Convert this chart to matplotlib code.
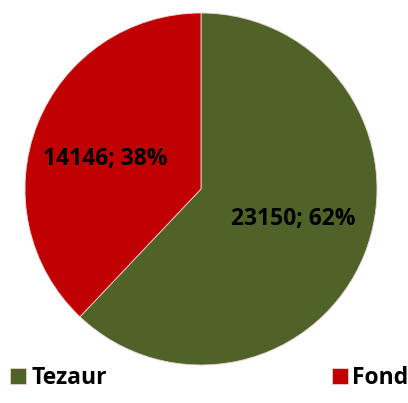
import matplotlib
matplotlib.use("Agg")
import matplotlib.pyplot as plt
import numpy as np

plt.rcParams['font.family'] = ['Open Sans', 'DejaVu Sans']

# Slices: clockwise from the top
labels = ["Tezaur", "Fond"]
values = [23150, 14146]
colors = ["#4F6228", "#C00000"]

W, H = 408, 403
fig = plt.figure(figsize=(W / 100, H / 100), dpi=100)
ax = fig.add_axes([25 / W, (H - 365) / H, 352 / W, 352 / H])

total = sum(values)

wedges, texts = ax.pie(values, colors=colors, startangle=90, counterclock=False,
                       wedgeprops=dict(linewidth=0.6, edgecolor="#f0d0d0"))
ax.set_aspect("equal")

# value labels inside the slices, pulled a bit toward the horizontal
for w, v in zip(wedges, values):
    ang = np.deg2rad((w.theta1 + w.theta2) / 2)
    r = 0.575
    ax.text(r * np.cos(ang) - 0.01, 0.8 * r * np.sin(ang), f"{v}; {v / total * 100:.0f}%",
            ha="center", va="center", fontsize=16.5, fontweight="bold", color="black")

ax.set_xlim(-1, 1)
ax.set_ylim(-1, 1)

# legend: one entry in each bottom corner
prop = dict(weight="bold", size=16.5)
fig.legend([wedges[0]], [labels[0]], loc="lower left", bbox_to_anchor=(-0.025, -0.02),
           frameon=False, handlelength=0.7, handleheight=0.7,
           handletextpad=0.2, prop=prop)
fig.legend([wedges[1]], [labels[1]], loc="lower right", bbox_to_anchor=(1.052, -0.02),
           frameon=False, handlelength=0.7, handleheight=0.7,
           handletextpad=0.2, prop=prop)

fig.savefig("out.png", dpi=100)
